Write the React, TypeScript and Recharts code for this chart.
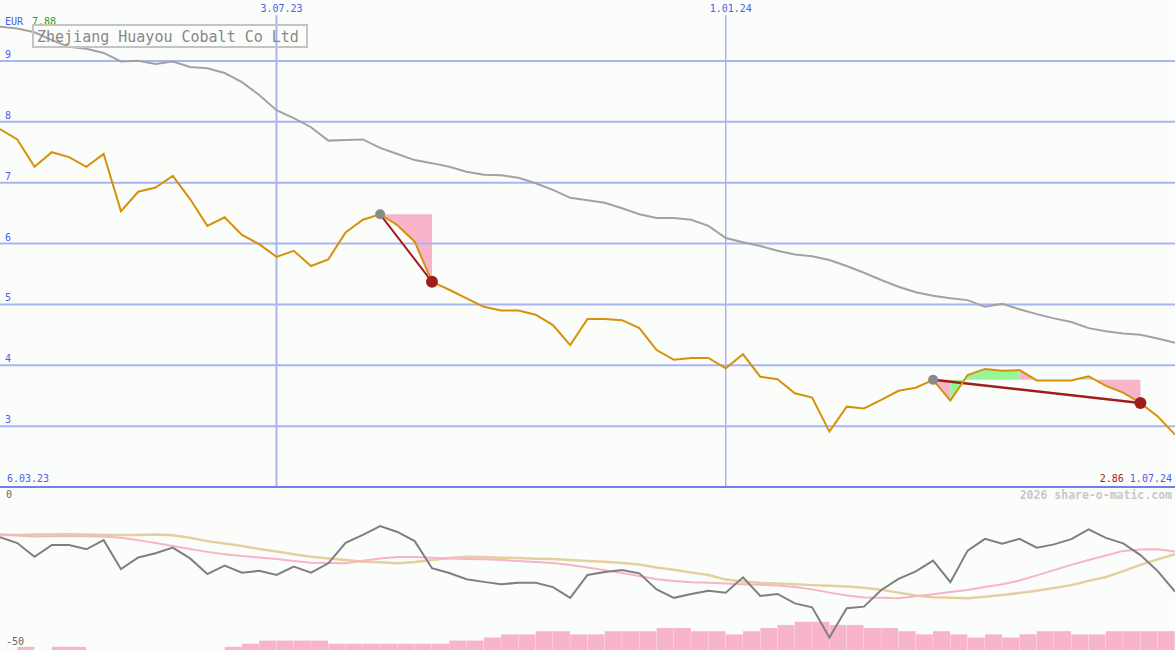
import React from 'react';
import {
  ComposedChart,
  LineChart,
  BarChart,
  Line,
  Area,
  Bar,
  XAxis,
  YAxis,
  ReferenceLine,
} from 'recharts';

// weekly closes in EUR, index 0 = first week of the range
const price = [
  7.88, 7.71, 7.26, 7.5, 7.42, 7.26, 7.47, 6.53, 6.85, 6.92,
  7.11, 6.73, 6.29, 6.43, 6.14, 5.99, 5.78, 5.88, 5.63, 5.74,
  6.18, 6.39, 6.48, 6.3, 6.03, 5.37, 5.24, 5.1, 4.96, 4.9,
  4.9, 4.83, 4.66, 4.33, 4.76, 4.76, 4.74, 4.61, 4.25, 4.09,
  4.12, 4.12, 3.95, 4.18, 3.81, 3.77, 3.54, 3.47, 2.91, 3.32,
  3.29, 3.43, 3.58, 3.63, 3.76, 3.42, 3.84, 3.94, 3.91, 3.92,
  3.75, 3.75, 3.75, 3.82, 3.66, 3.55, 3.38, 3.16, 2.86,
];

// long moving average (grey)
const avg = [
  9.56, 9.53, 9.47, 9.34, 9.23, 9.2, 9.13, 8.99, 9.0, 8.95,
  8.99, 8.9, 8.88, 8.8, 8.65, 8.44, 8.19, 8.06, 7.91, 7.69,
  7.7, 7.71, 7.57, 7.47, 7.37, 7.32, 7.26, 7.18, 7.13, 7.12,
  7.08, 6.99, 6.88, 6.75, 6.71, 6.67, 6.58, 6.48, 6.42, 6.42,
  6.39, 6.29, 6.09, 6.02, 5.96, 5.88, 5.82, 5.79, 5.73, 5.63,
  5.52, 5.4, 5.29, 5.2, 5.14, 5.1, 5.07, 4.96, 5.01, 4.92,
  4.84, 4.77, 4.71, 4.61, 4.56, 4.52, 4.5, 4.44, 4.37,
];

// lower panel oscillator and its two smoothings
const osc = [
  -15.4, -17.2, -21.4, -17.8, -17.8, -19.1, -16.3, -25.2, -21.6, -20.3,
  -18.6, -21.9, -26.7, -24.1, -26.3, -25.7, -27.0, -24.4, -26.3, -23.4,
  -17.1, -14.7, -12.0, -13.8, -16.6, -24.9, -26.4, -28.3, -29.1, -29.8,
  -29.4, -29.4, -30.7, -34.0, -27.0, -26.1, -25.5, -26.5, -31.4, -34.0,
  -32.8, -31.8, -32.4, -27.7, -33.4, -32.8, -35.7, -36.9, -46.2, -37.2,
  -36.7, -31.6, -28.2, -25.9, -22.6, -29.2, -19.5, -15.9, -17.4, -15.9,
  -18.6, -17.6, -16.0, -13.0, -15.6, -17.3, -20.9, -25.8, -32.1,
];

const oscFast = [
  -14.5, -14.9, -15.2, -15.1, -15.0, -15.1, -15.2, -15.6, -16.3, -17.2,
  -18.1, -19.0, -19.9, -20.6, -21.2, -21.6, -22.1, -22.7, -23.2, -23.3,
  -23.4, -22.6, -21.9, -21.5, -21.5, -21.7, -21.9, -22.1, -22.2, -22.4,
  -22.7, -23.0, -23.3, -23.9, -24.7, -25.5, -26.4, -27.3, -28.3, -28.8,
  -29.2, -29.4, -29.6, -29.8, -30.0, -30.2, -30.7, -31.4, -32.4, -33.3,
  -33.9, -34.0, -34.1, -33.5, -32.9, -32.2, -31.6, -30.7, -29.8, -28.7,
  -27.1, -25.5, -23.9, -22.4, -21.0, -19.6, -19.2, -19.1, -19.8,
];

const oscSlow = [
  -14.7, -14.7, -14.6, -14.5, -14.5, -14.6, -14.7, -14.7, -14.7, -14.6,
  -14.8, -15.6, -16.6, -17.3, -18.1, -19.0, -19.8, -20.6, -21.4, -21.9,
  -22.4, -22.9, -23.1, -23.4, -23.0, -22.4, -21.8, -21.4, -21.5, -21.7,
  -21.8, -22.0, -22.1, -22.4, -22.7, -22.9, -23.3, -23.8, -24.7, -25.4,
  -26.2, -27.0, -28.4, -29.0, -29.4, -29.6, -29.8, -30.1, -30.3, -30.5,
  -30.9, -31.5, -32.4, -33.3, -33.8, -34.0, -34.1, -33.7, -33.1, -32.5,
  -31.8, -31.0, -30.1, -28.8, -27.6, -25.8, -23.9, -22.2, -20.6,
];

// weekly volume level, one bar per week between two closes
const volume = [
  0, 1, 0, 1, 1, 0, 0, 0, 0, 0,
  0, 0, 0, 1, 2, 3, 3, 3, 3, 2,
  2, 2, 2, 2, 2, 2, 3, 3, 4, 5,
  5, 6, 6, 5, 5, 6, 6, 6, 7, 7,
  6, 6, 5, 6, 7, 8, 9, 9, 8, 8,
  7, 7, 6, 5, 6, 5, 4, 5, 4, 5,
  6, 6, 5, 5, 6, 6, 6, 6,
];

const priceTicks = [3, 4, 5, 6, 7, 8, 9];
const dateIdx = [16, 42];
const dateLabels = ['3.07.23', '1.01.24'];
const firstDate = '6.03.23';
const lastDate = '1.07.24';
const currency = 'EUR';
const title = 'Zhejiang Huayou Cobalt Co Ltd';

// trades: entry / exit week
const tradeEntry = [22, 54];
const tradeExit = [25, 66];
const lossSegs = [[22, 25], [54, 55], [59, 60], [63, 66]];
const gainSegs = [[55, 59], [62, 63]];

const LAST = price.length - 1;
const WIDTH = 1175;
const PRICE_H = 487;
const OSC_H = 163;
const MONO = '"DejaVu Sans Mono", monospace';
const GRID = '#a9b4f2';
const AXIS = '#7080e6';
const BLUE = '#4c5cf0';
const DARK_RED = '#a11d1d';

const tradeOf = (i: number) =>
  tradeEntry.findIndex((e, k) => i >= e && i <= tradeExit[k]);
const inSegs = (segs: number[][], i: number) =>
  segs.some(([a, b]) => i >= a && i <= b);

const priceRows = price.map((p, i) => {
  const t = tradeOf(i);
  const ref = t >= 0 ? price[tradeEntry[t]] : null;
  const row: any = {
    i,
    price: p,
    avg: avg[i],
    loss: ref != null && inSegs(lossSegs, i) ? [ref, p] : null,
    gain: ref != null && inSegs(gainSegs, i) ? [ref, p] : null,
    entry: tradeEntry.includes(i) ? p : null,
    exit: tradeExit.includes(i) ? p : null,
  };
  tradeEntry.forEach((e, k) => {
    row['t' + k] = i === e || i === tradeExit[k] ? p : null;
  });
  return row;
});

const oscRows = osc.map((v, i) => ({ i, osc: v, fast: oscFast[i], slow: oscSlow[i] }));
const volRows = volume.map((v, w) => ({ w, v }));

const gridLabel = (txt: string) => (props: any) => (
  <text x={props.viewBox.x + 5} y={props.viewBox.y - 3} fill={BLUE} fontSize={10} fontFamily={MONO}>
    {txt}
  </text>
);

const dateLabel = (txt: string) => (props: any) => (
  <text x={props.viewBox.x + 5} y={12} textAnchor="middle" fill={BLUE} fontSize={10} fontFamily={MONO}>
    {txt}
  </text>
);

const rangeLabel = (props: any) => {
  const { x, y, width } = props.viewBox;
  return (
    <g>
      <text x={x + 7} y={y - 5} fill={BLUE} fontSize={10} fontFamily={MONO}>
        {firstDate}
      </text>
      <text x={x + width - 3} y={y - 5} textAnchor="end" fontSize={10} fontFamily={MONO}>
        <tspan fill={DARK_RED}>{price[LAST].toFixed(2)}</tspan>
        <tspan fill={BLUE}>{' ' + lastDate}</tspan>
      </text>
    </g>
  );
};

const zeroLabel = (props: any) => {
  const { x, y, width } = props.viewBox;
  return (
    <g>
      <text x={x + 6} y={y + 11} fill="#666" fontSize={10} fontFamily={MONO}>
        0
      </text>
      <text x={x + width - 3} y={y + 12} textAnchor="end" fill="#c8c8c8" fontSize={11.5} fontWeight="bold" fontFamily={MONO}>
        2026 share-o-matic.com
      </text>
    </g>
  );
};

const minLabel = (props: any) => (
  <text x={props.viewBox.x + 6} y={props.viewBox.y - 5} fill="#666" fontSize={10} fontFamily={MONO}>
    -50
  </text>
);

const zeroMargin = { top: 0, right: 0, bottom: 0, left: 0 };

export default function App() {
  return (
    <div
      style={{
        position: 'absolute',
        left: 0,
        top: 0,
        width: WIDTH,
        height: PRICE_H + OSC_H,
        background: '#fbfdfb',
        overflow: 'hidden',
      }}
    >
      {/* lower panel: date lines */}
      <div style={{ position: 'absolute', left: 0, top: PRICE_H }}>
        <LineChart width={WIDTH} height={OSC_H} data={oscRows} margin={zeroMargin}>
          <XAxis type="number" dataKey="i" domain={[0, LAST]} hide />
          <YAxis type="number" domain={[-50, 0]} hide />
          {dateIdx.map((d, k) => (
            <ReferenceLine key={d} x={d} stroke={GRID} strokeWidth={k === 0 ? 2 : 1.5} />
          ))}
        </LineChart>
      </div>

      {/* lower panel: volume */}
      <div style={{ position: 'absolute', left: 0, top: PRICE_H }}>
        <BarChart width={WIDTH} height={OSC_H} data={volRows} margin={zeroMargin} barCategoryGap={0} barGap={0}>
          <XAxis dataKey="w" hide />
          <YAxis type="number" domain={[0, 52]} hide />
          <Bar dataKey="v" fill="#f8b4c9" isAnimationActive={false} />
        </BarChart>
      </div>

      {/* lower panel: oscillator */}
      <div style={{ position: 'absolute', left: 0, top: PRICE_H }}>
        <LineChart width={WIDTH} height={OSC_H} data={oscRows} margin={zeroMargin}>
          <XAxis type="number" dataKey="i" domain={[0, LAST]} hide />
          <YAxis type="number" domain={[-50, 0]} hide />
          <ReferenceLine y={0} stroke="none" label={zeroLabel} />
          <ReferenceLine y={-50} stroke="none" label={minLabel} />
          <Line dataKey="slow" stroke="#e4cf9e" strokeWidth={2.5} dot={false} activeDot={false} isAnimationActive={false} />
          <Line dataKey="fast" stroke="#f9b3c8" strokeWidth={2} dot={false} activeDot={false} isAnimationActive={false} />
          <Line dataKey="osc" stroke="#7f7f7f" strokeWidth={2} dot={false} activeDot={false} isAnimationActive={false} />
        </LineChart>
      </div>

      {/* price panel */}
      <div style={{ position: 'absolute', left: 0, top: 0 }}>
        <ComposedChart
          width={WIDTH}
          height={PRICE_H + 3}
          data={priceRows}
          margin={{ top: 0, right: 0, bottom: 3, left: 0 }}
        >
          <XAxis type="number" dataKey="i" domain={[0, LAST]} hide />
          <YAxis type="number" domain={[2, 10]} hide />
          <Area dataKey="loss" stroke="none" fill="#f8b4c9" fillOpacity={1} dot={false} activeDot={false} isAnimationActive={false} />
          <Area dataKey="gain" stroke="none" fill="#97f797" fillOpacity={1} dot={false} activeDot={false} isAnimationActive={false} />
          {priceTicks.map((t) => (
            <ReferenceLine key={t} y={t} stroke={GRID} strokeWidth={2} label={gridLabel(String(t))} />
          ))}
          {dateIdx.map((d, k) => (
            <ReferenceLine
              key={d}
              segment={[{ x: d, y: 9.75 }, { x: d, y: 2 }]}
              stroke={GRID}
              strokeWidth={k === 0 ? 2 : 1.5}
              label={dateLabel(dateLabels[k])}
            />
          ))}
          <ReferenceLine y={2} stroke={AXIS} strokeWidth={2} label={rangeLabel} />
          <Line dataKey="avg" stroke="#a2a2a2" strokeWidth={2} dot={false} activeDot={false} isAnimationActive={false} />
          {tradeEntry.map((e, k) => (
            <Line
              key={e}
              dataKey={'t' + k}
              connectNulls
              stroke={DARK_RED}
              strokeWidth={k === 0 ? 2 : 2.5}
              dot={false}
              activeDot={false}
              isAnimationActive={false}
            />
          ))}
          <Line dataKey="entry" stroke="none" dot={{ r: 5, fill: '#8a8a8a', stroke: 'none' }} activeDot={false} isAnimationActive={false} />
          <Line dataKey="exit" stroke="none" dot={{ r: 6, fill: DARK_RED, stroke: 'none' }} activeDot={false} isAnimationActive={false} />
          <Line dataKey="price" stroke="#d6910b" strokeWidth={2} dot={false} activeDot={false} isAnimationActive={false} />
        </ComposedChart>
      </div>

      {/* title box and currency */}
      <svg
        width={WIDTH}
        height={60}
        style={{ position: 'absolute', left: 0, top: 0, pointerEvents: 'none' }}
      >
        <text x={5} y={25} fill={BLUE} fontSize={10} fontFamily={MONO}>
          {currency}
        </text>
        <text x={32} y={25} fill="#22a022" fontSize={10} fontFamily={MONO}>
          {price[0].toFixed(2)}
        </text>
        <rect x={33} y={25} width={274} height={22} fill="none" stroke="#c4c4c4" strokeWidth={2} />
        <text x={37} y={41.5} fill="#888" fontSize={15} fontFamily={MONO}>
          {title}
        </text>
      </svg>
    </div>
  );
}
